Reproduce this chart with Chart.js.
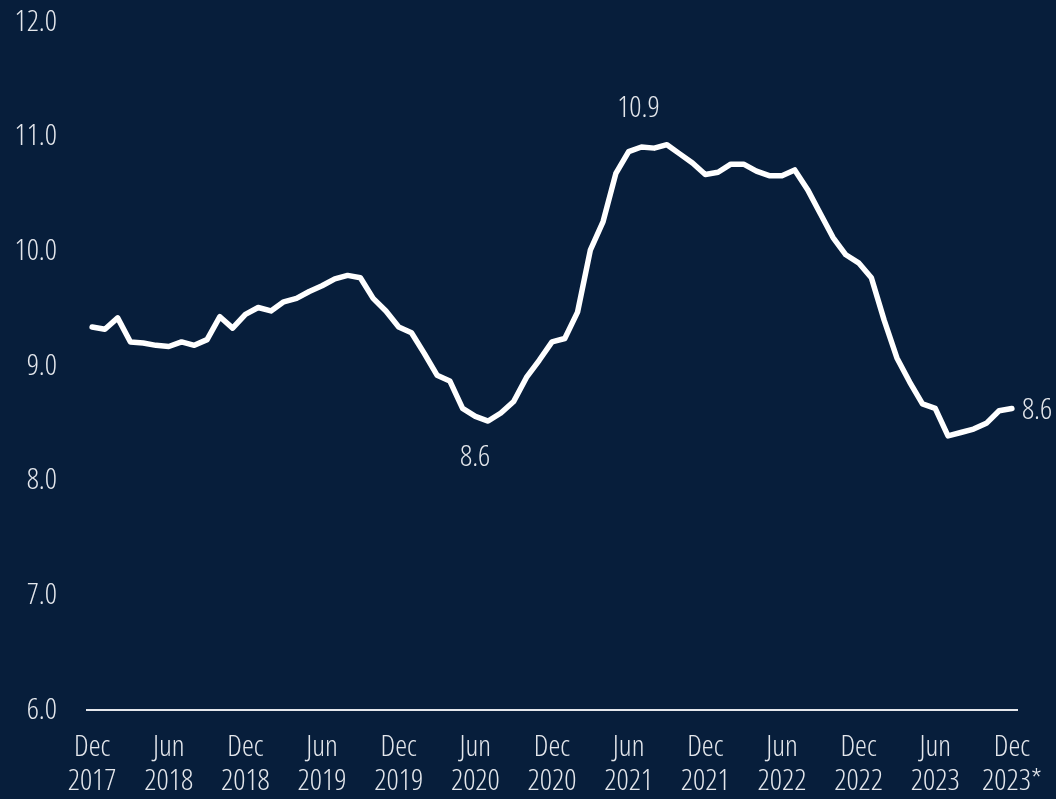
<!DOCTYPE html>
<html>
<head>
<meta charset="utf-8">
<script src="https://cdn.jsdelivr.net/npm/chart.js@4.4.1/dist/chart.umd.min.js"></script>
<style>
  html, body { margin: 0; padding: 0; background: #071e3b; }
  #wrap { width: 1056px; height: 799px; }
</style>
</head>
<body>
<div id="wrap"><canvas id="chart"></canvas></div>
<script>
// monthly values, Dec 2017 .. Dec 2023
const values = [
  9.34, 9.32, 9.42, 9.21, 9.20, 9.18, 9.17, 9.21, 9.18, 9.23, 9.43, 9.33,
  9.45, 9.51, 9.48, 9.56, 9.59, 9.65, 9.70, 9.76, 9.79, 9.77, 9.59, 9.48,
  9.34, 9.29, 9.11, 8.92, 8.87, 8.63, 8.56, 8.52, 8.59, 8.69, 8.90, 9.05,
  9.21, 9.24, 9.47, 10.01, 10.26, 10.68, 10.87, 10.91, 10.90, 10.93, 10.85, 10.77,
  10.67, 10.69, 10.76, 10.76, 10.70, 10.66, 10.66, 10.71, 10.54, 10.33, 10.12, 9.97,
  9.90, 9.77, 9.40, 9.07, 8.86, 8.67, 8.63, 8.39, 8.42, 8.45, 8.50, 8.61,
  8.63
];
const tickLabels = [
  ['Dec', '2017'], ['Jun', '2018'], ['Dec', '2018'], ['Jun', '2019'], ['Dec', '2019'],
  ['Jun', '2020'], ['Dec', '2020'], ['Jun', '2021'], ['Dec', '2021'], ['Jun', '2022'],
  ['Dec', '2022'], ['Jun', '2023'], ['Dec', '2023*']
];
const yTicks = [6, 7, 8, 9, 10, 11, 12];
// callouts: data index, text
const callouts = [
  { index: 43, text: '10.9' },
  { index: 31, text: '8.6' },
  { index: 72, text: '8.6' }
];

const FONT = '"Open Sans", sans-serif';
const WEIGHT = '300 condensed';
const SIZE = 30;
const TEXT = '#e4e7ec';

const calloutPlugin = {
  id: 'callouts',
  afterDatasetsDraw(chart) {
    const ctx = chart.ctx;
    const x = chart.scales.x, y = chart.scales.y;
    ctx.save();
    ctx.font = WEIGHT + ' ' + SIZE + 'px ' + FONT;
    ctx.fillStyle = TEXT;
    ctx.textBaseline = 'middle';
    callouts.forEach((c, n) => {
      const px = x.getPixelForValue(c.index);
      const py = y.getPixelForValue(values[c.index]);
      if (n === 0) {
        ctx.textAlign = 'center';
        ctx.fillText(c.text, px - 3, py - 39);
      } else if (n === 1) {
        ctx.textAlign = 'center';
        ctx.fillText(c.text, px - 13, py + 36);
      } else {
        ctx.textAlign = 'left';
        ctx.fillText(c.text, px + 10, py + 2);
      }
    });
    ctx.restore();
  }
};

// keep the plot box where the layout padding puts it
function noPad(scale) {
  scale.paddingTop = 0;
  scale.paddingBottom = 0;
  scale.paddingLeft = 0;
  scale.paddingRight = 0;
}

new Chart(document.getElementById('chart'), {
  type: 'line',
  data: {
    datasets: [{
      data: values.map((v, i) => ({ x: i, y: v })),
      borderColor: '#ffffff',
      borderWidth: 5.5,
      pointRadius: 0,
      tension: 0,
      borderCapStyle: 'round',
      borderJoinStyle: 'round'
    }]
  },
  options: {
    responsive: true,
    maintainAspectRatio: false,
    animation: false,
    layout: { padding: { top: 22, left: 16, right: 39, bottom: 0 } },
    plugins: { legend: { display: false }, tooltip: { enabled: false } },
    scales: {
      x: {
        type: 'linear',
        min: -0.4,
        max: 72.4,
        afterBuildTicks: (scale) => {
          scale.ticks = tickLabels.map((t, i) => ({ value: i * 6 }));
        },
        afterFit: (scale) => { scale.height = 89; noPad(scale); },
        ticks: {
          autoSkip: false,
          maxRotation: 0,
          color: TEXT,
          padding: 21,
          font: { family: FONT, weight: WEIGHT, size: SIZE, lineHeight: 1.13 },
          callback: (v) => tickLabels[Math.round(v / 6)]
        },
        grid: { display: false, drawTicks: false },
        border: { display: true, color: '#e4e7ec', width: 2 }
      },
      y: {
        min: 6,
        max: 12,
        afterBuildTicks: (scale) => {
          scale.ticks = yTicks.map(v => ({ value: v }));
        },
        afterFit: (scale) => { scale.width = 71; noPad(scale); },
        ticks: {
          color: TEXT,
          padding: 30,
          font: { family: FONT, weight: WEIGHT, size: SIZE },
          callback: (v) => v.toFixed(1)
        },
        grid: { display: false, drawTicks: false },
        border: { display: false }
      }
    }
  },
  plugins: [calloutPlugin]
});
</script>
</body>
</html>
